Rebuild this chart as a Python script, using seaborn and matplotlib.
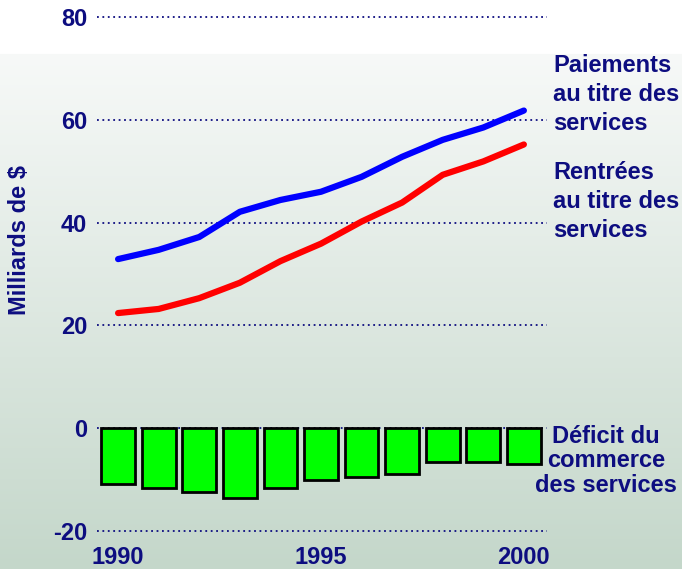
import numpy as np
import pandas as pd
import matplotlib.pyplot as plt
import seaborn as sns

annees = list(range(1990, 2001))
paiements = [32.9, 34.7, 37.2, 42.1, 44.4, 46.0, 48.9, 52.8, 56.1, 58.5, 61.8]
rentrees = [22.4, 23.2, 25.3, 28.3, 32.5, 35.9, 40.2, 43.9, 49.3, 51.9, 55.2]
deficit = [-10.9, -11.7, -12.5, -13.6, -11.7, -10.1, -9.4, -9.0, -6.6, -6.6, -7.0]

df = pd.DataFrame({'Annee': annees, 'Paiements': paiements,
                   'Rentrees': rentrees, 'Deficit': deficit})

sns.set_style("white")
plt.rcParams['font.family'] = ['Liberation Sans', 'DejaVu Sans']
plt.rcParams['font.weight'] = 'bold'
plt.rcParams['axes.unicode_minus'] = False
marine = '#0d0d80'

fig = plt.figure(figsize=(6.82, 5.69), dpi=100)

# fond en dégradé
fond = fig.add_axes([0, 0, 1, 1], zorder=-10)
h = 569
haut = np.array([1.0, 1.0, 1.0])
debut = np.array([247, 249, 248]) / 255
fin = np.array([196, 215, 202]) / 255
grad = np.zeros((h, 1, 3))
for i in range(h):
    if i < 54:
        grad[i, 0] = haut
    else:
        t = (i - 54) / (h - 54)
        grad[i, 0] = debut + (fin - debut) * t
fond.imshow(grad, aspect='auto', extent=[0, 1, 0, 1])
fond.axis('off')

ax = fig.add_axes([97 / 682, 38 / 569, 450 / 682, 514 / 569])
ax.patch.set_alpha(0)

for y in [-20, 0, 20, 40, 60, 80]:
    ax.axhline(y, color=marine, linestyle=(0, (1, 2)), linewidth=1.3, zorder=0, clip_on=False)

sns.barplot(data=df, x='Annee', y='Deficit', native_scale=True, width=0.83,
            color='#00ff00', saturation=1, edgecolor='black', linewidth=2,
            errorbar=None, ax=ax, zorder=2)
sns.lineplot(data=df, x='Annee', y='Paiements', color='#0000ff', linewidth=4.5, ax=ax, zorder=3)
sns.lineplot(data=df, x='Annee', y='Rentrees', color='#ff0000', linewidth=4.5, ax=ax, zorder=3)

ax.set_xlim(1989.48, 2000.57)
ax.set_ylim(-20, 80)
ax.set_xticks([1990, 1995, 2000])
ax.set_yticks([-20, 0, 20, 40, 60, 80])
ax.tick_params(axis='both', length=0, labelsize=17, labelcolor=marine)
ax.tick_params(axis='x', pad=11)
ax.tick_params(axis='y', pad=7)
for s in ax.spines.values():
    s.set_visible(False)
ax.set_xlabel('')
ax.set_ylabel('')

fig.text(20 / 682, 1 - 240 / 569, 'Milliards de $', rotation=90, ha='center', va='center',
         fontsize=17, fontweight='bold', color=marine)

fig.text(553 / 682, 1 - 54 / 569, 'Paiements\nau titre des\nservices', ha='left', va='top',
         fontsize=17, fontweight='bold', color=marine, linespacing=1.32)
fig.text(553 / 682, 1 - 161 / 569, 'Rentrées\nau titre des\nservices', ha='left', va='top',
         fontsize=17, fontweight='bold', color=marine, linespacing=1.32)
fig.text(606 / 682, 1 - 425 / 569, 'Déficit du\ncommerce\ndes services', ha='center', va='top',
         fontsize=17, fontweight='bold', color=marine, linespacing=1.08, multialignment='center')

fig.savefig('out.png', dpi=100)
